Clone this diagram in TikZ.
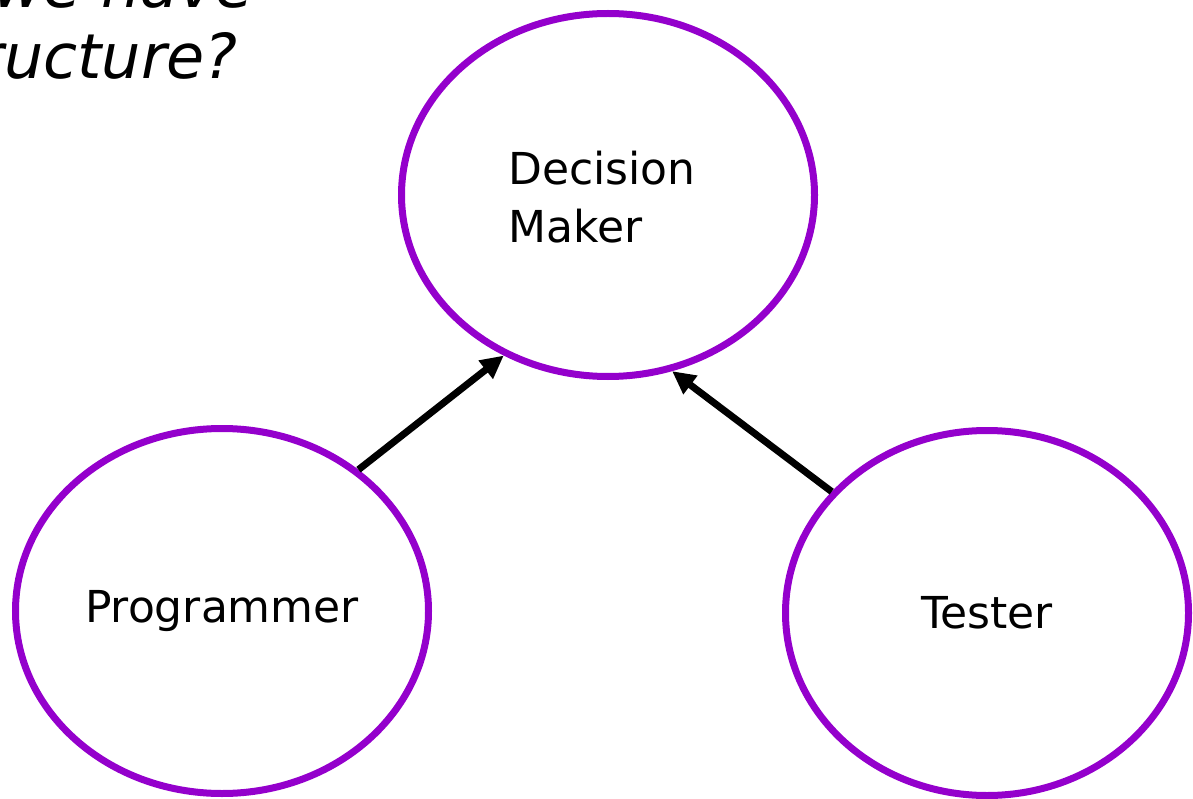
\documentclass[tikz,border=0pt]{standalone}
\usepackage{fontspec}
\setmainfont{DejaVu Sans}
\usetikzlibrary{shapes.geometric,arrows.meta}
\definecolor{rolepurple}{RGB}{148,0,204}
\tikzset{
  role/.style={ellipse, draw=rolepurple, line width=7pt, inner sep=0pt,
    font=\fontsize{44}{58}\selectfont},
  link/.style={line width=7pt, -{Triangle[length=23pt,width=22pt]}},
  question/.style={font=\fontsize{62}{72}\itshape\selectfont, inner sep=0pt}
}
\begin{document}
\begin{tikzpicture}[x=1pt,y=-1pt]
  \useasboundingbox (0,0) rectangle (1193,799);
  \clip (0,0) rectangle (1193,799);
  % heading, running off the top-left corner
  \node[question, anchor=base east] (q1) at (254,8) {we have};
  \node[question, anchor=base east] (q2) at (238,79) {structure?};
  % roles
  \node[role, minimum width=413pt, minimum height=363pt] (dm) at (608,195) {};
  \node[align=left, anchor=north west, inner sep=0pt,
        font=\fontsize{44}{58}\selectfont] (dmtext) at (508,151) {Decision\\Maker};
  \node[role, minimum width=413pt, minimum height=365pt] (prog) at (222,611) {Programmer};
  \node[role, minimum width=403pt, minimum height=365pt] (test) at (987,613) {Tester};
  % reporting lines
  \draw[link] (prog.46.5) -- (dm.237.4);
  \draw[link] (test.142.4) -- (dm.290.7);
\end{tikzpicture}
\end{document}
